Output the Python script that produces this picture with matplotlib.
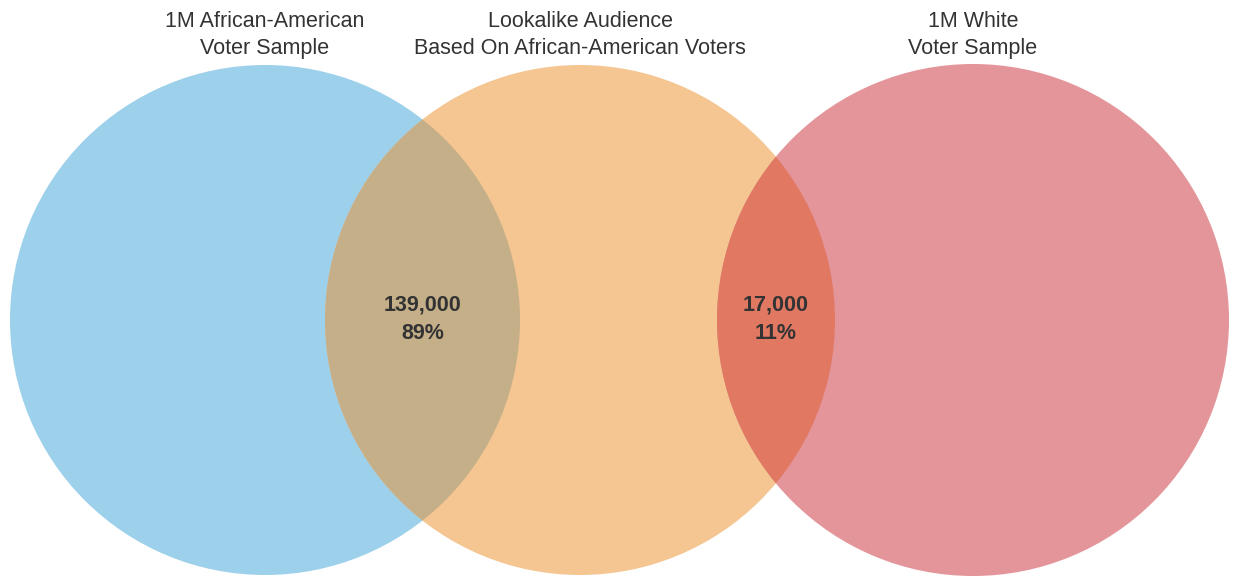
import matplotlib.pyplot as plt
from matplotlib.patches import Circle

plt.rcParams['font.family'] = ['Liberation Sans', 'DejaVu Sans']

# three audiences, drawn left to right
set_labels = ['1M African-American\nVoter Sample',
              'Lookalike Audience\nBased On African-American Voters',
              '1M White\nVoter Sample']
set_colors = ['#9dd0eb', '#f5c592', '#e4959a']
# overlap of the lookalike audience with each sample
overlap_counts = [139000, 17000]
overlap_colors = ['#c4af89', '#e07862']

centers = [(265, 320), (580, 320), (973, 320)]
radii = [255, 255, 256]

fig = plt.figure(figsize=(12.33, 5.78), dpi=100)
ax = fig.add_axes([0, 0, 1, 1])
ax.set_xlim(0, 1233)
ax.set_ylim(578, 0)
ax.set_aspect('equal')
ax.axis('off')

circles = []
for (cx, cy), r, col in zip(centers, radii, set_colors):
    c = Circle((cx, cy), r, facecolor=col, edgecolor='none')
    ax.add_patch(c)
    circles.append(c)

# shade each overlap by clipping the middle circle to the outer one
total = sum(overlap_counts)
for i, (n, col) in enumerate(zip(overlap_counts, overlap_colors)):
    outer = circles[0] if i == 0 else circles[2]
    patch = Circle(centers[1], radii[1], facecolor=col, edgecolor='none')
    ax.add_patch(patch)
    patch.set_clip_path(outer)

    # label at the middle of the lens
    a, b = (centers[0], centers[1]) if i == 0 else (centers[1], centers[2])
    ra, rb = (radii[0], radii[1]) if i == 0 else (radii[1], radii[2])
    left = b[0] - rb
    right = a[0] + ra
    lx = (left + right) / 2
    ax.text(lx, 319, f'{n:,}\n{round(100 * n / total)}%', ha='center', va='center',
            fontsize=15.5, fontweight='bold', color='#333333', linespacing=1.45)

for (cx, cy), lab in zip(centers, set_labels):
    ax.text(cx, 35, lab, ha='center', va='center', fontsize=15.5,
            color='#333333', linespacing=1.4)

fig.savefig('out.png', dpi=100, facecolor='white')
